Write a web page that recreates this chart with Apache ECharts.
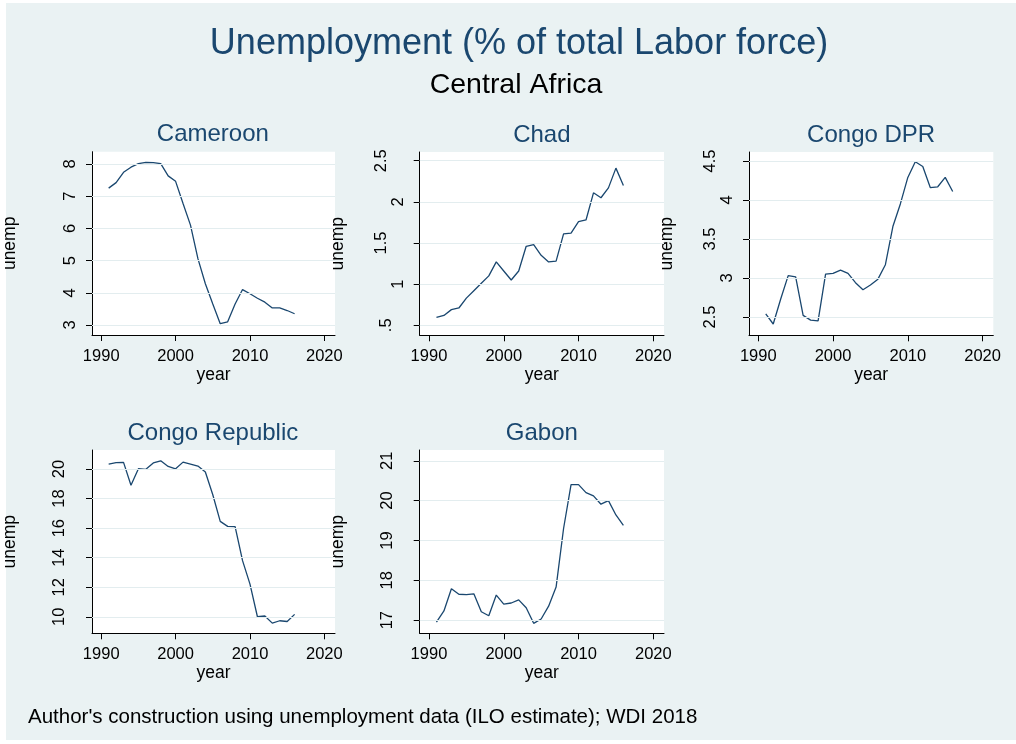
<!DOCTYPE html>
<html><head><meta charset="utf-8">
<script src="https://cdn.jsdelivr.net/npm/echarts@6/dist/echarts.min.js"></script>
<style>
html,body{margin:0;padding:0;background:#fff}
#c{width:1016px;height:744px;background:#eaf2f3;box-shadow:inset 6px 3px 0 #fff, inset 0 -4px 0 #fff}
</style>
</head><body><div id="c"></div>
<script>
const years = [1991,1992,1993,1994,1995,1996,1997,1998,1999,2000,2001,2002,2003,2004,2005,2006,2007,2008,2009,2010,2011,2012,2013,2014,2015,2016];
const cameroon = [7.25,7.42,7.74,7.90,8.01,8.05,8.04,8.01,7.63,7.46,6.77,6.10,5.06,4.28,3.65,3.04,3.10,3.65,4.10,3.97,3.83,3.71,3.53,3.53,3.45,3.35];
const chad = [0.595,0.62,0.69,0.71,0.83,0.92,1.01,1.10,1.27,1.16,1.05,1.16,1.46,1.48,1.35,1.27,1.28,1.61,1.62,1.76,1.78,2.11,2.05,2.17,2.41,2.20];
const congoDPR = [2.54,2.41,2.73,3.03,3.015,2.52,2.46,2.45,3.05,3.06,3.10,3.06,2.94,2.85,2.91,2.985,3.17,3.66,3.95,4.29,4.49,4.43,4.16,4.17,4.29,4.11];
const congoRep = [20.34,20.43,20.45,18.9,20.02,19.98,20.41,20.56,20.18,20.02,20.47,20.34,20.2,19.8,18.26,16.46,16.12,16.1,13.8,12.21,10.0,10.05,9.57,9.73,9.68,10.16];
const gabon = [16.95,17.23,17.79,17.65,17.64,17.66,17.21,17.11,17.63,17.40,17.43,17.51,17.31,16.92,17.03,17.35,17.83,19.30,20.40,20.40,20.20,20.12,19.91,20.0,19.64,19.38];

const xTicks = [1990,2000,2010,2020];
const cameroonTicks = [3,4,5,6,7,8];
const chadTicks = [0.5,1,1.5,2,2.5];
const dprTicks = [2.5,3,3.5,4,4.5];
const congoRepTicks = [10,12,14,16,18,20];
const gabonTicks = [17,18,19,20,21];

const mainTitle = 'Unemployment (% of total Labor force)';
const subTitle = 'Central Africa';
const note = "Author's construction using unemployment data (ILO estimate); WDI 2018";

const FONT = "'Liberation Sans', Arial, Helvetica, sans-serif";
const NAVY = '#1a476f';
const GRIDC = '#e3edef';
const W = 244.3, H = 183.3;

const panels = [
  {name:'Cameroon', data:cameroon, ticks:cameroonTicks, min:2.69, max:8.38, left:90.7, top:151.7},
  {name:'Chad', data:chad, ticks:chadTicks, min:0.378, max:2.606, left:419.7, top:152},
  {name:'Congo DPR', data:congoDPR, ticks:dprTicks, min:2.265, max:4.616, left:749, top:152},
  {name:'Congo Republic', data:congoRep, ticks:congoRepTicks, min:8.88, max:21.29, left:90.7, top:450},
  {name:'Gabon', data:gabon, ticks:gabonTicks, min:16.67, max:21.27, left:419.7, top:450}
];

function fmt(v){ let s = String(v); if (v > 0 && v < 1) s = s.replace(/^0/, ''); return s; }
function off(s){ if (s.length === 1) return 0; if (s[0] === '.') return 12; if (s.length === 2) return 11; return 17; }

const grid = [], xAxis = [], yAxis = [], series = [], graphic = [];
panels.forEach((p, i) => {
  grid.push({left:p.left, top:p.top, width:W, height:H, show:true, backgroundColor:'#fff', borderWidth:0});
  xAxis.push({
    type:'value', gridIndex:i, min:1988.76, max:2021.43,
    axisLine:{show:true, lineStyle:{color:'#000', width:1}},
    axisTick:{show:true, customValues:xTicks, length:6, lineStyle:{color:'#000'}},
    axisLabel:{customValues:xTicks, margin:13, fontSize:16.5, color:'#000', fontFamily:FONT,
      formatter: v => String(v)},
    splitLine:{show:false},
    name:'year', nameLocation:'middle', nameGap:29,
    nameTextStyle:{fontSize:17.5, color:'#000', fontFamily:FONT}
  });
  yAxis.push({
    type:'value', gridIndex:i, min:p.min, max:p.max,
    axisLine:{show:true, lineStyle:{color:'#000', width:1}},
    axisTick:{show:true, customValues:p.ticks, length:6, lineStyle:{color:'#000'}},
    axisLabel:{customValues:p.ticks, rotate:90, margin:13, fontSize:16.5, color:'#000', fontFamily:FONT,
      formatter: v => { const s = fmt(v); return '{o' + off(s) + '|' + s + '}'; },
      rich:{o0:{padding:[0,0,0,0]}, o11:{padding:[0,0,11,0]}, o12:{padding:[0,0,12,0]}, o17:{padding:[0,0,17,0]}}
    },
    splitLine:{show:false},
    name:'unemp', nameLocation:'middle', nameGap:73, nameRotate:90,
    nameTextStyle:{fontSize:17.5, color:'#000', fontFamily:FONT}
  });
  series.push({
    type:'line', xAxisIndex:i, yAxisIndex:i,
    data: years.map((y, k) => [y, p.data[k]]),
    symbol:'none', showSymbol:false, silent:true, animation:false,
    lineStyle:{color:NAVY, width:1.3},
    markLine:{silent:true, symbol:'none', animation:false, label:{show:false},
      lineStyle:{color:GRIDC, width:1, type:'solid'},
      emphasis:{disabled:true},
      data: p.ticks.map(v => ({yAxis:v}))},
    z:3
  });
  graphic.push({type:'text', x:p.left + W/2, y:p.top - 17,
    style:{text:p.name, fill:NAVY, font:'24px ' + FONT, textAlign:'center', textVerticalAlign:'middle'}});
});

graphic.push({type:'text', x:519, y:44, style:{text:mainTitle, fill:NAVY, font:'36px ' + FONT, textAlign:'center', textVerticalAlign:'middle'}});
graphic.push({type:'text', x:516, y:85, style:{text:subTitle, fill:'#000', font:'28.5px ' + FONT, textAlign:'center', textVerticalAlign:'middle'}});
graphic.push({type:'text', x:28, y:717, style:{text:note, fill:'#000', font:'20.5px ' + FONT, textAlign:'left', textVerticalAlign:'middle'}});

const chart = echarts.init(document.getElementById('c'), null, {renderer:'canvas'});
chart.setOption({animation:false, backgroundColor:'transparent', grid, xAxis, yAxis, series, graphic});
</script>
</body></html>
